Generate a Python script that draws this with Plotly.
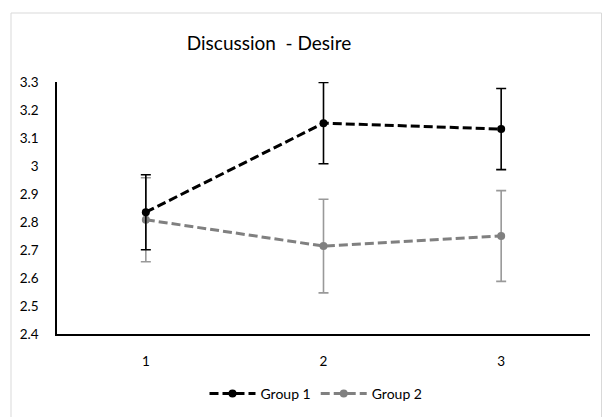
import plotly.graph_objects as go

categories = ["1", "2", "3"]
group1 = [2.835, 3.153, 3.132]
group1_err = [0.134, 0.145, 0.145]
group2 = [2.808, 2.714, 2.750]
group2_err = [0.150, 0.167, 0.162]
yticks = [2.4, 2.5, 2.6, 2.7, 2.8, 2.9, 3.0, 3.1, 3.2, 3.3]
yticklabels = ["2.4", "2.5", "2.6", "2.7", "2.8", "2.9", "3", "3.1", "3.2", "3.3"]

W, H = 602, 417
ML, MR, MT, MB = 57, 12, 82, 83
PW, PH = W - ML - MR, H - MT - MB

FONT = "Lato, Carlito, Calibri, sans-serif"

fig = go.Figure()
fig.add_trace(go.Scatter(
    x=categories, y=group2, name="Group 2", mode="lines+markers",
    line=dict(color="#808080", width=3, dash="9px,4px"),
    marker=dict(color="#808080", size=8, symbol="circle"),
    error_y=dict(type="data", array=group2_err, visible=True,
                 color="#999999", thickness=1.6, width=5),
))
fig.add_trace(go.Scatter(
    x=categories, y=group1, name="Group 1", mode="lines+markers",
    line=dict(color="#000000", width=3, dash="9px,4px"),
    marker=dict(color="#000000", size=8, symbol="circle"),
    error_y=dict(type="data", array=group1_err, visible=True,
                 color="#000000", thickness=1.6, width=5),
))

def px_x(p):
    return (p - ML) / PW

def px_y(p):
    return (H - MB - p) / PH

fig.add_shape(type="rect", xref="paper", yref="paper",
              x0=px_x(11), x1=px_x(601.5), y0=px_y(430), y1=px_y(13),
              line=dict(color="#d9d9d9", width=1), layer="below")

fig.update_layout(
    width=W, height=H,
    margin=dict(l=ML, r=MR, t=MT, b=MB, autoexpand=False),
    paper_bgcolor="white", plot_bgcolor="white",
    font=dict(family=FONT, size=13, color="#000000"),
    title=dict(text="Discussion  - Desire", x=269 / W, xanchor="center",
               y=1 - 43 / H, yanchor="middle", yref="container",
               font=dict(family=FONT, size=19, color="#000000")),
    xaxis=dict(type="category", range=[-0.5, 2.5], showgrid=False,
               showline=True, linecolor="#000000", linewidth=1.5,
               ticks="", tickfont=dict(size=13.5), zeroline=False,
               ticklabelstandoff=14, automargin=False),
    yaxis=dict(range=[2.4, 3.3], tickvals=yticks, ticktext=yticklabels,
               showgrid=False, showline=True, linecolor="#000000",
               linewidth=1.5, ticks="", tickfont=dict(size=13.5),
               zeroline=False, ticklabelstandoff=14, automargin=False),
    legend=dict(orientation="h", x=px_x(316), xanchor="center",
                y=px_y(394), yanchor="middle", traceorder="reversed",
                font=dict(size=14), itemwidth=46),
    showlegend=True,
)

fig.write_html("out.html", config={"displayModeBar": False},
               post_script="document.body.style.margin='0';document.body.style.overflow='hidden';")
